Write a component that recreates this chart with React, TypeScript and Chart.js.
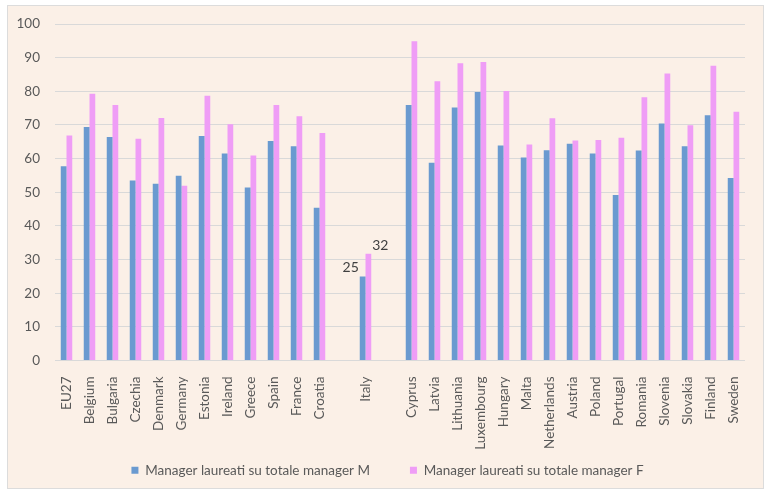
import React, { useEffect, useRef } from "react";
import { Chart, registerables } from "chart.js";

Chart.register(...registerables);

const categories: string[] = [
  "EU27", "Belgium", "Bulgaria", "Czechia", "Denmark", "Germany", "Estonia", "Ireland",
  "Greece", "Spain", "France", "Croatia", "", "Italy", "", "Cyprus", "Latvia", "Lithuania",
  "Luxembourg", "Hungary", "Malta", "Netherlands", "Austria", "Poland", "Portugal",
  "Romania", "Slovenia", "Slovakia", "Finland", "Sweden",
];

const managerM: (number | null)[] = [
  57.7, 69.4, 66.4, 53.5, 52.5, 54.9, 66.7, 61.5, 51.4, 65.2, 63.7, 45.4, null, 25.0, null,
  75.9, 58.8, 75.2, 79.8, 63.9, 60.3, 62.5, 64.4, 61.5, 49.2, 62.4, 70.4, 63.7, 72.9, 54.2,
];

const managerF: (number | null)[] = [
  66.9, 79.3, 75.9, 65.9, 72.1, 51.9, 78.7, 70.2, 60.9, 75.9, 72.6, 67.6, null, 31.7, null,
  94.9, 83.0, 88.3, 88.7, 80.1, 64.2, 72.0, 65.4, 65.5, 66.2, 78.2, 85.3, 69.9, 87.6, 73.9,
];

const seriesNames = [
  "Manager laureati su totale manager M",
  "Manager laureati su totale manager F",
];

const labelledCategory = "Italy";

const FONT = "Lato, 'Open Sans', sans-serif";

const italyLabels = {
  id: "italyLabels",
  afterDatasetsDraw(chart: any) {
    const idx = chart.data.labels.indexOf(labelledCategory);
    if (idx < 0) return;
    const ctx = chart.ctx;
    ctx.save();
    ctx.font = `14px ${FONT}`;
    ctx.fillStyle = "#404040";
    ctx.textBaseline = "middle";
    chart.data.datasets.forEach((ds: any, di: number) => {
      const meta = chart.getDatasetMeta(di);
      const el = meta.data[idx];
      const v = ds.data[idx];
      if (!el || v == null) return;
      const half = el.width / 2;
      if (di === 0) {
        ctx.textAlign = "right";
        ctx.fillText(String(Math.round(v)), el.x - half - 1, el.y - 9);
      } else {
        ctx.textAlign = "left";
        ctx.fillText(String(Math.round(v)), el.x + half + 1, el.y - 8.5);
      }
    });
    ctx.restore();
  },
};

export default function App() {
  const ref = useRef<HTMLCanvasElement | null>(null);

  useEffect(() => {
    if (!ref.current) return;
    const chart = new Chart(ref.current, {
      type: "bar",
      data: {
        labels: categories,
        datasets: [
          {
            label: seriesNames[0],
            data: managerM,
            backgroundColor: "#6A9AD0",
            categoryPercentage: 0.5,
            barPercentage: 1.0,
          },
          {
            label: seriesNames[1],
            data: managerF,
            backgroundColor: "#EF9DF6",
            categoryPercentage: 0.5,
            barPercentage: 1.0,
          },
        ],
      },
      options: {
        animation: false,
        responsive: false,
        devicePixelRatio: 1,
        layout: { padding: { left: 30, right: 23, top: 24, bottom: 5 } },
        plugins: {
          legend: {
            position: "bottom",
            labels: {
              boxWidth: 7,
              boxHeight: 7,
              padding: 40,
              color: "#595959",
              font: { family: FONT, size: 13.5 },
            },
          },
          tooltip: { enabled: false },
        },
        scales: {
          x: {
            grid: { display: false },
            border: { display: false },
            ticks: {
              autoSkip: false,
              maxRotation: 90,
              minRotation: 90,
              padding: 8,
              color: "#595959",
              font: { family: FONT, size: 13.5 },
            },
            afterFit(scale: any) {
              scale.height = 63;
              scale._computeLabelArea = () => undefined;
            },
          },
          y: {
            min: 0,
            max: 100,
            ticks: {
              stepSize: 10,
              padding: 15,
              color: "#595959",
              font: { family: FONT, size: 13.5 },
            },
            grid: { color: "#D9D9D9", drawTicks: false, lineWidth: 1 },
            border: { display: false },
            afterFit(scale: any) {
              scale.width = 25;
              scale._computeLabelArea = () => undefined;
            },
          },
        },
      },
      plugins: [italyLabels],
    });
    return () => chart.destroy();
  }, []);

  return (
    <div style={{ position: "fixed", left: 0, top: 0, width: 768, height: 492, background: "#FFFFFF" }}>
      <div
        style={{
          position: "absolute",
          left: 7,
          top: 5,
          width: 757,
          height: 484,
          background: "#FBF0E7",
          border: "1px solid #DCDCDC",
          boxSizing: "border-box",
        }}
      />
      <canvas
        ref={ref}
        width={768}
        height={492}
        style={{ position: "absolute", left: 0, top: 0, width: 768, height: 492 }}
      />
    </div>
  );
}
